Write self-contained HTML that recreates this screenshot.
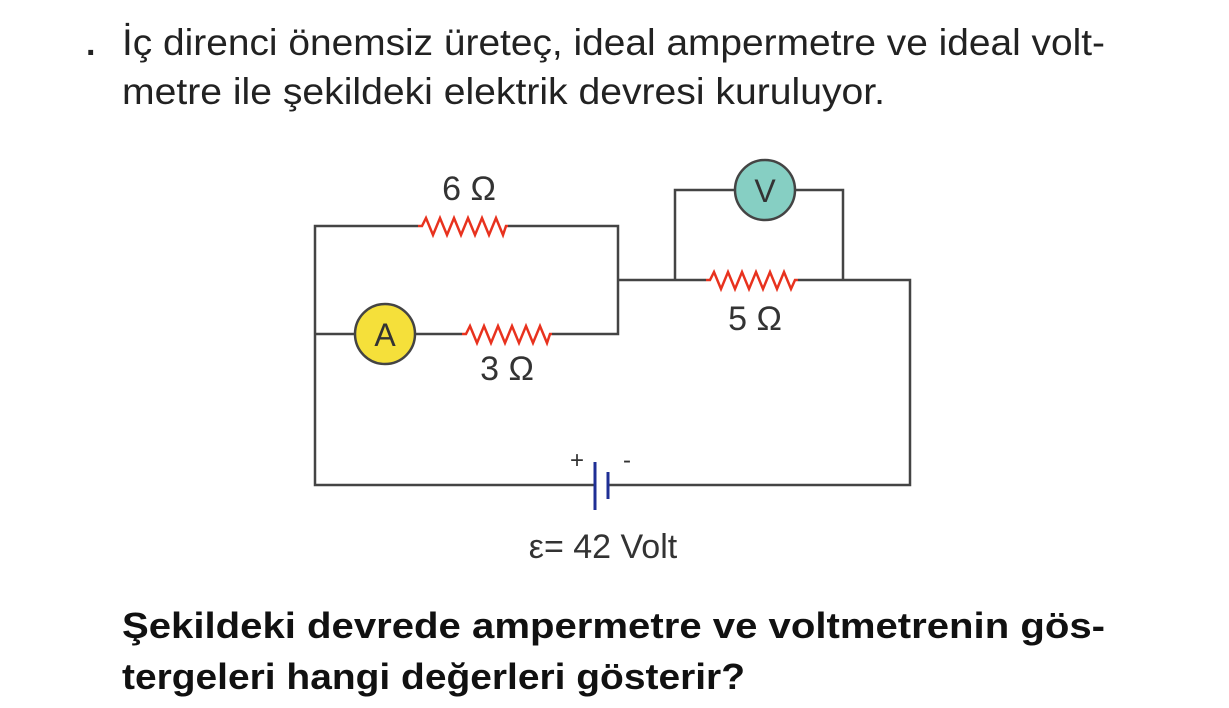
<!DOCTYPE html>
<html><head><meta charset="utf-8"><style>
html,body{margin:0;padding:0;background:#fff;}
svg{display:block;}
</style></head><body>
<svg width="1229" height="708" viewBox="0 0 1229 708" xmlns="http://www.w3.org/2000/svg" font-family="Liberation Sans, sans-serif">
<rect width="1229" height="708" fill="#fff"/>
<g fill="#222" font-size="37">
<text x="86" y="55" font-weight="bold" font-size="34">.</text>
<text x="122" y="55" textLength="983" lengthAdjust="spacingAndGlyphs">İç direnci önemsiz üreteç, ideal ampermetre ve ideal volt-</text>
<text x="122" y="104" textLength="763" lengthAdjust="spacingAndGlyphs">metre ile şekildeki elektrik devresi kuruluyor.</text>
</g>
<g fill="#111" font-size="36" font-weight="bold">
<text x="122" y="638" textLength="983" lengthAdjust="spacingAndGlyphs">Şekildeki devrede ampermetre ve voltmetrenin gös-</text>
<text x="122" y="689" textLength="623" lengthAdjust="spacingAndGlyphs">tergeleri hangi değerleri gösterir?</text>
</g>
<g stroke="#444" stroke-width="2.5" fill="none">
<polyline points="418,226 315,226 315,485 595,485"/>
<polyline points="508,226 618,226 618,334 552,334"/>
<line x1="315" y1="334" x2="355" y2="334"/>
<line x1="415" y1="334" x2="462" y2="334"/>
<polyline points="618,280 706,280"/>
<polyline points="798,280 910,280 910,485 608,485"/>
<polyline points="675,280 675,190 735,190"/>
<polyline points="795,190 843,190 843,280"/>
</g>
<g stroke="#e8321e" stroke-width="2.5" fill="none" stroke-linejoin="miter">
<polyline points="418,226 422,226 426,218 433,235 440,218 447,235 454,218 461,235 468,218 475,235 482,218 489,235 496,218 503,235 506,226 508,226"/>
<polyline points="462,334 466,334 470,326 477,343 484,326 491,343 498,326 505,343 512,326 519,343 526,326 533,343 540,326 547,343 550,334 552,334"/>
<polyline points="706,280 710,280 714,272 721,289 728,272 735,289 742,272 749,289 756,272 763,289 770,272 777,289 784,272 791,289 795,280 798,280"/>
</g>
<circle cx="385" cy="334" r="30" fill="#f5e03a" stroke="#444" stroke-width="2.5"/>
<text x="385" y="346" font-size="32" text-anchor="middle" fill="#333">A</text>
<circle cx="765" cy="190" r="30" fill="#86cfc3" stroke="#444" stroke-width="2.5"/>
<text x="765" y="202" font-size="32" text-anchor="middle" fill="#333">V</text>
<line x1="595" y1="462" x2="595" y2="510" stroke="#1f2f95" stroke-width="3"/>
<line x1="608" y1="472" x2="608" y2="499" stroke="#1f2f95" stroke-width="3"/>
<g fill="#333" font-size="34" text-anchor="middle">
<text x="469" y="200">6 Ω</text>
<text x="507" y="380">3 Ω</text>
<text x="755" y="330">5 Ω</text>
<text x="603" y="558">ε= 42 Volt</text>
<text x="577" y="468" font-size="24">+</text>
<text x="627" y="468" font-size="24">-</text>
</g>
</svg>
</body></html>
